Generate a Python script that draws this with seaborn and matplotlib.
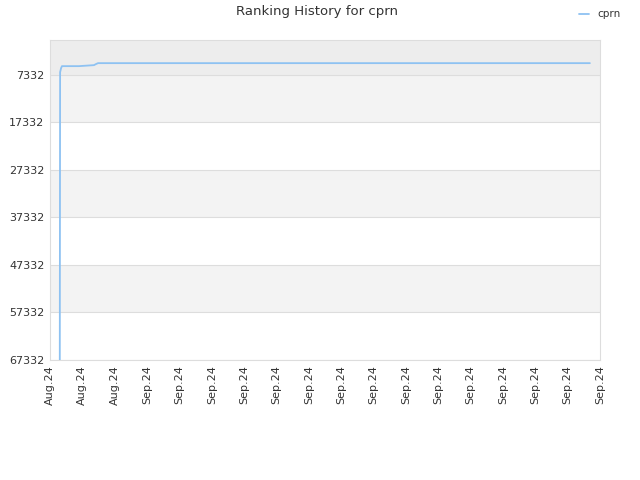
import matplotlib
matplotlib.use("Agg")
import matplotlib.pyplot as plt
import matplotlib.dates as mdates
import seaborn as sns
import pandas as pd

dates = ["2024-08-26 14:30", "2024-08-26 15:00", "2024-08-26 16:30", "2024-08-26 17:45",
         "2024-08-27 19:00", "2024-08-28 17:15", "2024-08-28 20:00", "2024-08-28 23:15",
         "2024-09-28 09:00"]
ranks = [70000, 6760, 5900, 5500, 5500, 5290, 5080, 4870, 4870]
ytick_vals = [7332, 17332, 27332, 37332, 47332, 57332, 67332]
xtick_dates = pd.date_range("2024-08-26", "2024-09-29", freq="2D")

df = pd.DataFrame({"date": pd.to_datetime(dates), "rank": ranks})

sns.set_style("white")
plt.rcParams['font.family'] = ['DejaVu Sans']
fig = plt.figure(figsize=(6.4, 4.8), dpi=100)
ax = fig.add_axes([50/640, 1-360/480, 550/640, 320/480])

# background bands
ax.axhspan(0, 7332, color="#ededed", zorder=0, lw=0)
for i in range(0, len(ytick_vals) - 1, 2):
    ax.axhspan(ytick_vals[i], ytick_vals[i+1], color="#f3f3f3", zorder=0, lw=0)
for v in ytick_vals:
    ax.axhline(v, color="#dddddd", lw=0.8, zorder=1)

sns.lineplot(data=df, x="date", y="rank", ax=ax, color="#8ec2f2", lw=1.3,
             label="cprn", zorder=3)

ax.set_ylim(67332, 0)
ax.set_xlim(pd.Timestamp("2024-08-26"), pd.Timestamp("2024-09-29"))
ax.set_yticks(ytick_vals)
ax.set_yticklabels([str(v) for v in ytick_vals])
ax.set_xticks(xtick_dates)
ax.xaxis.set_major_formatter(mdates.DateFormatter("%b.%y"))
plt.setp(ax.get_xticklabels(), rotation=90)
ax.tick_params(axis="both", labelsize=8, colors="#333333", length=0, pad=4)
ax.set_xlabel("")
ax.set_ylabel("")
for s in ax.spines.values():
    s.set_color("#dddddd")
    s.set_linewidth(0.8)

fig.suptitle("Ranking History for cprn", x=0.495, y=0.99, fontsize=9.5, color="#333333")
leg = ax.legend(loc="upper right", bbox_to_anchor=(0.985, 1.0), bbox_transform=fig.transFigure,
                frameon=False, fontsize=7.5, handlelength=1.0)
for t in leg.get_texts():
    t.set_color("#333333")

fig.savefig("out.png", dpi=100)
